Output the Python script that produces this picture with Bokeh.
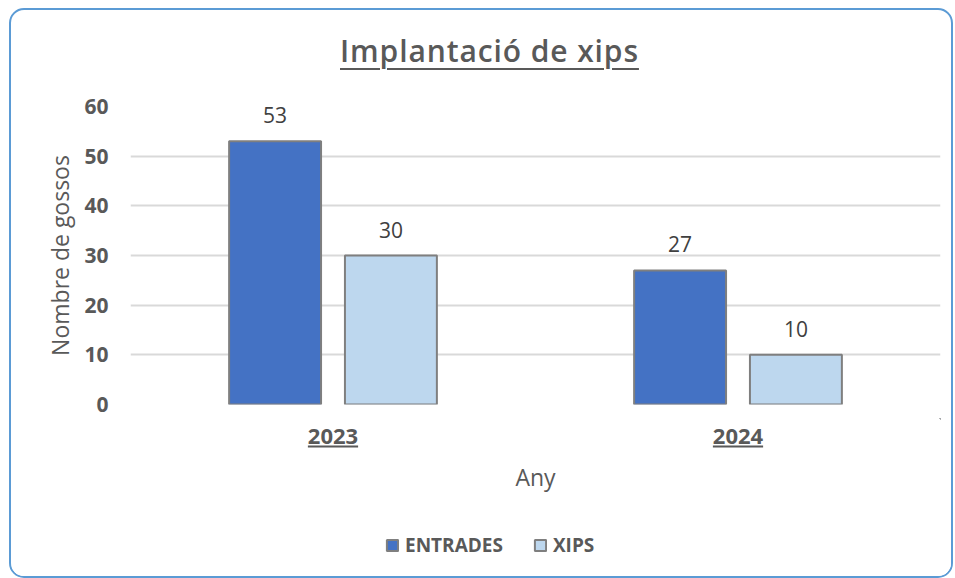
from bokeh.plotting import figure
from bokeh.models import (ColumnDataSource, LabelSet, Label, Legend, LegendItem,
                          FixedTicker, Div)
from bokeh.layouts import column
from bokeh.core.properties import value
from bokeh.transform import dodge
from bokeh.embed import file_html
from bokeh.resources import INLINE

years = ["2023", "2024"]
entrades = [53, 27]
xips = [30, 10]
y_ticks = [0, 10, 20, 30, 40, 50, 60]
series_names = ["ENTRADES", "XIPS"]
colors = ["#4472C4", "#BDD7EE"]
title_text = "Implantació de xips"
y_label = "Nombre de gossos"
x_label = "Any"

FONT = "Open Sans"
GRAY = "#595959"
W = 940
STRIP_H = 158
BASE = 1000   # strip coordinates start far from the data values

source = ColumnDataSource(dict(
    years=years,
    entrades=entrades,
    xips=xips,
    entrades_lbl=[str(v) for v in entrades],
    xips_lbl=[str(v) for v in xips],
))

# ---- title (HTML, underlined) ----
title_div = Div(
    text=(f'<div style="padding-left:329px; padding-top:26px; font-family:\'{FONT}\';'
          f' font-size:30px; font-weight:600; line-height:1; letter-spacing:0.9px;'
          f' color:{GRAY}; text-decoration:underline; text-decoration-thickness:2px;'
          f' text-underline-offset:6px; white-space:nowrap;">{title_text}</div>'),
    width=W, height=80, margin=0)

# ---- main chart ----
p = figure(x_range=years, y_range=(0, 60),
           width=W, height=328,
           min_border_left=119, min_border_right=11,
           min_border_top=16, min_border_bottom=14,
           output_backend="svg", toolbar_location=None,
           background_fill_color="white", border_fill_color="white", margin=0)
p.outline_line_color = None

off = 0.143
bw = 0.227
r1 = p.vbar(x=dodge("years", -off, range=p.x_range), top="entrades", width=bw,
            source=source, fill_color=colors[0], line_color="#7F7F7F", line_width=2)
r2 = p.vbar(x=dodge("years", off, range=p.x_range), top="xips", width=bw,
            source=source, fill_color=colors[1], line_color="#7F7F7F", line_width=2)

for col, lbl, d in (("entrades", "entrades_lbl", -off), ("xips", "xips_lbl", off)):
    p.add_layout(LabelSet(x=dodge("years", d, range=p.x_range), y=col, text=lbl,
                          source=source, text_align="center",
                          text_baseline="alphabetic", y_offset=18,
                          text_font=value(FONT), text_font_size="21px",
                          text_color="#404040"))

p.xaxis.visible = False
ax = p.yaxis[0]
ax.axis_line_color = None
ax.major_tick_line_color = None
ax.minor_tick_line_color = None
ax.major_tick_out = 0
ax.major_tick_in = 0
ax.ticker = FixedTicker(ticks=y_ticks)
ax.major_label_text_font = FONT
ax.major_label_text_font_style = "bold"
ax.major_label_text_color = GRAY
ax.major_label_text_font_size = "21px"
ax.major_label_standoff = 22
ax.axis_label = y_label
ax.axis_label_text_font = FONT
ax.axis_label_text_font_style = "normal"
ax.axis_label_text_font_size = "23px"
ax.axis_label_text_color = GRAY
ax.axis_label_standoff = 5

p.xgrid.grid_line_color = None
p.ygrid.grid_line_color = "#D9D9D9"
p.ygrid.grid_line_width = 2

# ---- lower strip: category labels (underlined), axis title, legend ----
p2 = figure(x_range=p.x_range, y_range=(BASE + STRIP_H, BASE), width=W, height=STRIP_H,
            min_border=0, x_axis_type=None, y_axis_type=None,
            output_backend="svg", toolbar_location=None,
            background_fill_color="white", border_fill_color="white", margin=0)
p2.outline_line_color = None
p2.grid.grid_line_color = None

p2.add_layout(LabelSet(x="years", y=BASE + 18, text="years", source=source,
                       text_align="center", text_baseline="middle",
                       text_font=value(FONT), text_font_style="bold",
                       text_font_size="22px", text_color=GRAY))
p2.segment(x0=dodge("years", -0.062, range=p2.x_range),
           x1=dodge("years", 0.062, range=p2.x_range),
           y0=BASE + 28, y1=BASE + 28, source=source, line_color=GRAY, line_width=2)
p2.add_layout(Label(x=1.0, y=BASE + 58, text=x_label, text_align="center",
                    text_baseline="middle", text_font=FONT,
                    text_font_size="23px", text_color=GRAY))

# legend-only renderers, placed outside the strip's view
far = dodge("years", 50, range=p2.x_range)
l1 = p2.vbar(x=far, top="entrades", width=bw, source=source,
             fill_color=colors[0], line_color="#7F7F7F", line_width=2)
l2 = p2.vbar(x=far, top="xips", width=bw, source=source,
             fill_color=colors[1], line_color="#7F7F7F", line_width=2)
legend = Legend(items=[LegendItem(label=series_names[0], renderers=[l1]),
                       LegendItem(label=series_names[1], renderers=[l2])],
                orientation="horizontal", location=(255, 18),
                label_text_font=FONT, label_text_font_style="bold",
                label_text_font_size="19px", label_text_color=GRAY,
                glyph_width=14, glyph_height=14, spacing=30, label_standoff=6,
                border_line_color=None, background_fill_alpha=0,
                padding=0, margin=0)
p2.add_layout(legend, "center")

layout = column(title_div, p, p2, spacing=0, margin=(8, 0, 0, 9),
                styles={"border": "2px solid #5B9BD5", "border-radius": "15px",
                        "background-color": "white", "overflow": "hidden"})

open("out.html", "w").write(file_html(layout, INLINE))
